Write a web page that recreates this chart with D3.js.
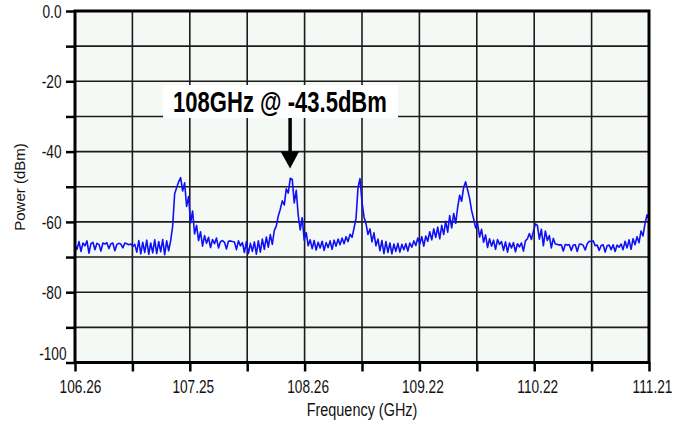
<!DOCTYPE html>
<head>
  <meta charset="utf-8">
  <title>Power spectrum 106.26 - 111.21 GHz</title>
<style>
html, body {
  margin: 0;
  padding: 0;
  background: #fff;
}
body {
  font-family: Arial, 'Liberation Sans', Helvetica, sans-serif;
}
.grid line {
  stroke: #1c1c1c;
  stroke-width: 1.6;
}
.trace {
  fill: none;
  stroke: #1010f5;
  stroke-width: 1.6;
  stroke-linejoin: round;
}
</style>
</head>
<body>
<svg width="684" height="425"></svg>
<script src="https://d3js.org/d3.v7.min.js"></script>
<script>
var fStart = 106.26,
    fStop  = 111.21;

var xTickLabels = ["106.26", "", "107.25", "", "108.26", "", "109.22", "", "110.22", "", "111.21"];
var yTicks      = [0, -10, -20, -30, -40, -50, -60, -70, -80, -90, -100];
var yTickLabels = ["0.0", "", "-20", "", "-40", "", "-60", "", "-80", "", "-100"];

// sweep samples (dBm), evenly spaced from fStart to fStop
var power = [
  -66.5, -67.8, -65.6, -68.4, -66.0, -66.8, -65.4, -68.9, -66.2, -65.8,
  -67.9, -66.1, -66.4, -68.3, -66.0, -66.3, -65.9, -67.6, -66.2, -66.0,
  -68.2, -66.4, -66.1, -66.3, -67.4, -66.0, -66.2, -66.5, -66.3, -67.0,
  -66.4, -68.6, -65.3, -69.1, -65.8, -68.7, -65.2, -69.2, -66.0, -68.8,
  -65.1, -69.0, -65.6, -68.5, -65.0, -69.3, -65.4, -68.2, -65.3, -61.2,
  -52.0, -50.3, -48.6, -47.4, -51.2, -48.9, -55.6, -52.8, -60.3, -56.9,
  -63.4, -61.0, -65.3, -62.8, -66.9, -63.9, -66.1, -64.4, -67.3, -65.0,
  -66.2, -64.6, -67.4, -65.6, -65.3, -65.8, -67.7, -65.5, -65.4, -65.6,
  -65.7, -67.9, -65.4, -66.8, -65.9, -68.7, -65.6, -69.0, -66.1, -68.4,
  -65.7, -69.2, -65.4, -68.6, -64.9, -67.8, -64.3, -67.2, -63.6, -66.4,
  -62.4, -61.2, -58.3, -56.4, -54.0, -55.2, -50.6, -51.8, -47.6, -47.9,
  -54.6, -51.0, -58.1, -62.3, -58.8, -65.2, -63.0, -66.8, -65.1, -67.6,
  -65.3, -68.0, -65.8, -67.4, -65.5, -68.1, -65.9, -67.3, -65.4, -67.8,
  -65.2, -66.9, -64.9, -66.5, -64.6, -66.2, -64.2, -65.6, -63.5, -64.4,
  -61.8, -59.0, -50.2, -47.7, -54.3, -58.6, -60.5, -63.6, -62.0, -65.7,
  -63.1, -66.8, -64.9, -68.2, -65.3, -69.0, -65.6, -68.7, -66.0, -69.1,
  -66.3, -68.4, -66.1, -68.6, -66.4, -67.9, -66.2, -68.3, -66.0, -67.2,
  -65.4, -66.7, -64.6, -66.3, -64.2, -66.9, -64.0, -65.5, -62.8, -65.1,
  -62.0, -64.4, -61.5, -64.8, -61.0, -63.6, -59.8, -62.9, -58.2, -61.7,
  -57.6, -60.4, -55.9, -52.4, -54.1, -50.2, -48.6, -50.9, -53.3, -56.8,
  -59.1, -61.7, -60.4, -64.3, -62.1, -65.8, -63.7, -67.3, -64.8, -66.9,
  -65.2, -67.8, -65.0, -66.4, -65.6, -68.1, -65.7, -68.6, -66.0, -67.4,
  -65.9, -68.5, -66.2, -67.1, -66.0, -68.3, -65.4, -64.8, -63.3, -65.0,
  -62.7, -60.6, -61.0, -64.9, -62.1, -66.8, -62.6, -65.3, -63.9, -67.4,
  -64.7, -66.3, -66.4, -66.6, -66.5, -68.3, -66.4, -66.6, -66.5, -68.1,
  -66.6, -66.5, -68.4, -66.4, -66.3, -66.7, -68.0, -66.2, -65.5, -65.6,
  -65.4, -66.8, -66.6, -68.1, -66.7, -66.5, -68.6, -66.8, -66.6, -67.9,
  -66.5, -68.4, -66.6, -67.2, -66.3, -67.9, -65.5, -67.4, -65.1, -67.8,
  -64.8, -66.5, -64.2, -65.9, -62.6, -64.0, -60.5, -58.0, -59.2
];

var noteText = "108GHz @ -43.5dBm",
    noteFreq = 108.115,
    noteTip  = -44.8;

var svg = d3.select("svg"),
    plotL = 75, plotR = 649, plotT = 11, plotB = 362.5,
    squeeze = 0.76; // the original figure is narrowed horizontally

var x = d3.scaleLinear().domain([fStart, fStop]).range([plotL, plotR]);
var y = d3.scaleLinear().domain([-100, 0]).range([plotB, plotT]);
var sampleFreq = d3.scaleLinear().domain([0, power.length - 1]).range([fStart, fStop]);

var gridFreqs = xTickLabels.map(function(d, i) {
  return fStart + i * (fStop - fStart) / (xTickLabels.length - 1);
});

svg.append("rect")
    .attr("x", plotL).attr("y", plotT)
    .attr("width", plotR - plotL).attr("height", plotB - plotT)
    .attr("fill", "#f4f9f5");

var grid = svg.append("g").attr("class", "grid");
grid.selectAll(".v").data(gridFreqs.slice(1, -1))
  .enter().append("line")
    .attr("x1", function(d) { return x(d); })
    .attr("x2", function(d) { return x(d); })
    .attr("y1", plotT).attr("y2", plotB);
grid.selectAll(".h").data(yTicks.slice(1, -1))
  .enter().append("line")
    .attr("x1", plotL).attr("x2", plotR)
    .attr("y1", function(d) { return y(d); })
    .attr("y2", function(d) { return y(d); });

var line = d3.line()
    .x(function(d, i) { return x(sampleFreq(i)); })
    .y(function(d) { return y(d); });

svg.append("path")
    .datum(power)
    .attr("class", "trace")
    .attr("d", line);

// annotation
var ax = x(noteFreq), ay = y(noteTip);
svg.append("rect")
    .attr("x", ax - 127).attr("y", 85)
    .attr("width", 235).attr("height", 33)
    .attr("fill", "#fff");
svg.append("text")
    .attr("transform", "translate(" + (ax - 117) + ",112) scale(" + squeeze + ",1)")
    .attr("font-size", 29)
    .attr("font-weight", "bold")
    .attr("fill", "#000")
    .text(noteText);
svg.append("line")
    .attr("x1", ax).attr("x2", ax)
    .attr("y1", 118).attr("y2", ay - 14)
    .attr("stroke", "#000").attr("stroke-width", 3.5);
svg.append("path")
    .attr("d", "M" + (ax - 9.5) + "," + (ay - 17) + "L" + (ax + 9) + "," + (ay - 17) + "L" + ax + "," + ay + "Z")
    .attr("fill", "#000");

// frame
svg.append("rect")
    .attr("x", plotL).attr("y", plotT)
    .attr("width", plotR - plotL).attr("height", plotB - plotT)
    .attr("fill", "none")
    .attr("stroke", "#000")
    .attr("stroke-width", 3);

var xAxis = svg.append("g")
    .attr("transform", "translate(0," + plotB + ")")
    .call(d3.axisBottom(x)
      .tickValues(gridFreqs)
      .tickSize(9)
      .tickFormat(function(d, i) { return xTickLabels[i]; }));

var yAxis = svg.append("g")
    .attr("transform", "translate(" + plotL + ",0)")
    .call(d3.axisLeft(y)
      .tickValues(yTicks)
      .tickSize(9)
      .tickFormat(function(d, i) { return yTickLabels[i]; }));

[xAxis, yAxis].forEach(function(g) {
  g.select(".domain").remove();
  g.selectAll(".tick line").attr("stroke", "#000").attr("stroke-width", 2.5);
  g.selectAll(".tick text")
      .attr("font-family", "Arial, 'Liberation Sans', sans-serif")
      .attr("font-size", 18)
      .attr("fill", "#111");
});

xAxis.selectAll(".tick text")
    .attr("y", 31).attr("dy", null)
    .attr("transform", function(d, i) {
      return "translate(" + (i === 0 ? 5 : 3) + ",0) scale(" + squeeze + ",1)";
    });

yAxis.selectAll(".tick text")
    .attr("x", -13.5 / squeeze)
    .attr("dy", "0.34em")
    .attr("transform", function(d) {
      return (d === -100 ? "translate(5,-9) " : "") + "scale(" + squeeze + ",1)";
    });

svg.append("text")
    .attr("transform", "translate(362,416) scale(" + squeeze + ",1)")
    .attr("text-anchor", "middle")
    .attr("font-size", 19)
    .attr("fill", "#111")
    .text("Frequency (GHz)");

svg.append("text")
    .attr("transform", "translate(25,187) rotate(-90)")
    .attr("text-anchor", "middle")
    .attr("font-size", 15)
    .attr("fill", "#111")
    .text("Power (dBm)");
</script>
</body>
